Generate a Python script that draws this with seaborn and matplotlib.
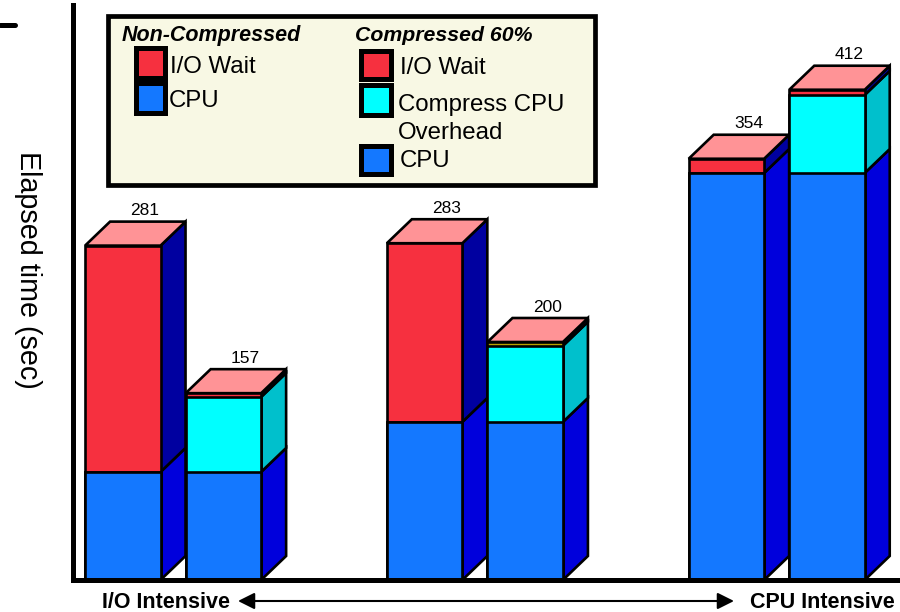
import pandas as pd
import matplotlib
matplotlib.use("Agg")
import matplotlib.pyplot as plt
from matplotlib.patches import Polygon, Rectangle
import seaborn as sns

# Values (seconds)
totals = [281, 157, 283, 200, 354, 412]
cpu = [90.8, 90.8, 132.8, 132.8, 342, 342]
compress = [0, 63, 0, 64, 0, 65.6]

# Colours
RED, BLUE, CYAN = "#F6303F", "#1478FF", "#00FFFF"
RED_SIDE, BLUE_SIDE, CYAN_SIDE = "#0000A0", "#0000DC", "#00C0CC"
TOP = "#FF9396"
OLIVE = "#B8A000"

sns.set_style("white")
plt.rcParams["font.family"] = ["Liberation Sans", "DejaVu Sans"]

W, H = 900, 612
PX_PER_SLOT = 100.6
PX_PER_SEC = 1.19
DX = 25 / PX_PER_SLOT   # depth of the fake 3D boxes
DY = 24 / PX_PER_SEC
LW = 1.9

fig = plt.figure(figsize=(W / 100, H / 100), dpi=100)
ax = fig.add_axes([72.5 / W, (H - 580) / H, (W - 72.5) / W, 575 / H])

# Stacked bars: pairs of slots with an empty slot between the groups
slots = [0, 1, 3, 4, 6, 7]
df = pd.DataFrame({"slot": slots, "total": totals, "cpu": cpu, "compress": compress})
df["cpu_compress"] = df["cpu"] + df["compress"]

for col, color in [("total", RED), ("cpu_compress", CYAN), ("cpu", BLUE)]:
    n_before = len(ax.patches)
    sns.barplot(data=df, x="slot", y=col, native_scale=True, width=0.75, color=color,
                saturation=1, errorbar=None, edgecolor="black", linewidth=LW, ax=ax)
    for i, patch in enumerate(ax.patches[n_before:]):
        patch.set_zorder(10 + i + 0.5)
        # the very thin I/O wait strip of the 200 bar comes out olive
        if col == "total" and i == 3:
            patch.set_facecolor(OLIVE)


def box_poly(points, color, z):
    ax.add_patch(Polygon(points, closed=True, facecolor=color, edgecolor="black",
                         linewidth=LW, zorder=z, joinstyle="miter"))


# Sides and tops of the boxes
for i, row in df.iterrows():
    x1 = row["slot"] + 0.375
    x0 = row["slot"] - 0.375
    z = 10 + i
    levels = [(0, row["cpu"], BLUE_SIDE),
              (row["cpu"], row["cpu_compress"], CYAN_SIDE),
              (row["cpu_compress"], row["total"], RED_SIDE)]
    for low, high, color in levels:
        if high > low:
            box_poly([(x1, low), (x1 + DX, low + DY), (x1 + DX, high + DY), (x1, high)], color, z)
    top = row["total"]
    box_poly([(x0, top), (x1, top), (x1 + DX, top + DY), (x0 + DX, top + DY)], TOP, z)
    ax.annotate(str(int(top)), (row["slot"] + DX / 2 + 0.095, top + DY), xytext=(0, 7.8),
                textcoords="offset points", ha="center", va="center", fontsize=12.5,
                color="black", annotation_clip=False, zorder=30)

ax.set_xlim(-0.5, -0.5 + (W - 72.5) / PX_PER_SLOT)
ax.set_ylim(0, 575 / PX_PER_SEC)
ax.set_xlabel("")
ax.set_ylabel("")
ax.set_xticks([])
ax.set_yticks([])
ax.patch.set_alpha(0)
for side in ["top", "right"]:
    ax.spines[side].set_visible(False)
for side in ["left", "bottom"]:
    ax.spines[side].set_linewidth(3.6)
    ax.spines[side].set_color("black")
    ax.spines[side].set_zorder(40)


# Everything around the plot is placed in pixels from the top left
def fx(x):
    return x / W


def fy(y):
    return 1 - y / H


def px_text(x, y, s, **kw):
    fig.text(fx(x), fy(y), s, color="black", **kw)


def px_rect(x0, y0, x1, y1, face, lw):
    fig.add_artist(Rectangle((fx(x0), fy(y1)), (x1 - x0) / W, (y1 - y0) / H,
                             transform=fig.transFigure, facecolor=face, edgecolor="black",
                             linewidth=lw, joinstyle="miter"))


px_text(28, 270, "Elapsed time (sec)", rotation=270, ha="center", va="center", fontsize=20.7)
fig.add_artist(plt.Line2D([fx(0), fx(15)], [fy(25), fy(25)], color="black", linewidth=3.6))

# Legend box
px_rect(107.8, 15.7, 594.5, 184.7, "#F8F8E4", 3.4)
px_text(122, 35.5, "Non-Compressed", fontsize=15.5, fontweight="bold", fontstyle="italic", va="center")
px_text(355, 35.5, "Compressed 60%", fontsize=15.3, fontweight="bold", fontstyle="italic", va="center")
px_rect(135.5, 48.5, 164.5, 77.5, RED, 3.6)
px_rect(135.5, 83.5, 164.5, 112.5, BLUE, 3.6)
px_rect(360.5, 50.5, 390.5, 78.5, RED, 3.6)
px_rect(360.5, 85.5, 390.5, 114.5, CYAN, 3.6)
px_rect(360.5, 145.5, 390.5, 173.5, BLUE, 3.6)
px_text(170, 67, "I/O Wait", fontsize=17.3, va="center")
px_text(169, 101, "CPU", fontsize=17.3, va="center")
px_text(400, 68, "I/O Wait", fontsize=17.3, va="center")
px_text(398, 105, "Compress CPU", fontsize=17.3, va="center")
px_text(398, 133, "Overhead", fontsize=17.3, va="center")
px_text(400, 161, "CPU", fontsize=17.3, va="center")

# Axis caption with the double arrow
px_text(102, 603, "I/O Intensive", fontsize=15.5, fontweight="bold", va="center")
px_text(750, 603, "CPU Intensive", fontsize=15.5, fontweight="bold", va="center")
ax.annotate("", xy=(fx(238), fy(601)), xytext=(fx(734), fy(601)), xycoords="figure fraction",
            textcoords="figure fraction",
            arrowprops=dict(arrowstyle="<|-|>,head_length=1.0,head_width=0.5", color="black",
                            linewidth=1.5, shrinkA=0, shrinkB=0, mutation_scale=10))

fig.savefig("out.png", dpi=100, facecolor="white")
